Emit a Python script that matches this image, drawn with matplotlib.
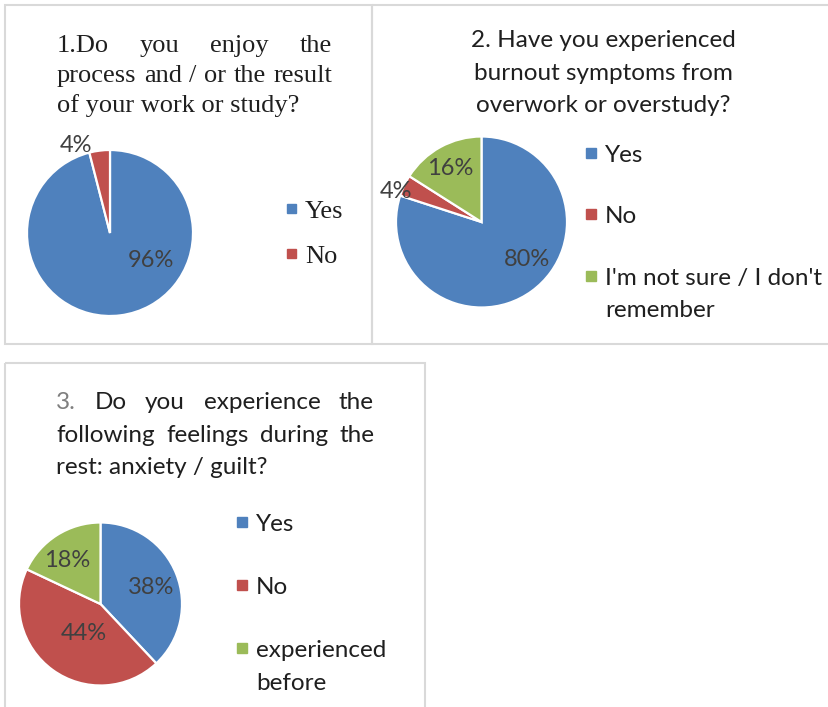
import matplotlib
matplotlib.use("Agg")
import matplotlib.pyplot as plt
from matplotlib.patches import Rectangle

W, H = 829, 707

# chart data
q1_title = ["1.Do you enjoy the", "process and / or the result", "of your work or study?"]
q1_labels = ["Yes", "No"]
q1_values = [96, 4]

q2_title = ["2. Have you experienced", "burnout symptoms from", "overwork or overstudy?"]
q2_labels = ["Yes", "No", "I'm not sure / I don't\nremember"]
q2_values = [80, 4, 16]

q3_title = ["3. Do you experience the", "following feelings during the", "rest: anxiety / guilt?"]
q3_labels = ["Yes", "No", "experienced\nbefore"]
q3_values = [38, 44, 18]

colors = ["#4F81BD", "#C0504D", "#9BBB59"]
SANS = ["Lato", "DejaVu Sans"]
SERIF = ["Liberation Serif", "DejaVu Serif"]
TXT = "#1f1f1f"
FS_SERIF = 19
FS_SANS = 17.5

fig = plt.figure(figsize=(W / 100, H / 100), dpi=100)
fig.patch.set_facecolor("white")

over = fig.add_axes([0, 0, 1, 1])
over.set_xlim(0, W)
over.set_ylim(H, 0)
over.axis("off")
over.patch.set_visible(False)
over.set_zorder(5)

# panel frames
for x0, y0, x1, y1 in [(5, 5, 372, 344), (372, 5, 835, 344), (5, 363, 425, 715)]:
    over.add_patch(Rectangle((x0, y0), x1 - x0, y1 - y0, fill=False,
                             ec="#D9D9D9", lw=1.5, clip_on=False))


def pie_axes(cx, cy, r, pad=1.4):
    ax = fig.add_axes([(cx - pad * r) / W, 1 - (cy + pad * r) / H,
                       2 * pad * r / W, 2 * pad * r / H])
    return ax


def draw_pie(ax, values, label_pos):
    _, _, autotexts = ax.pie(values, colors=colors, startangle=90, counterclock=False,
                             autopct="%1.0f%%", radius=1, frame=True,
                             wedgeprops=dict(edgecolor="white", linewidth=1.6),
                             textprops=dict(color="#404040", fontsize=17, family=SANS))
    ax.set_xlim(-1.4, 1.4)
    ax.set_ylim(-1.4, 1.4)
    ax.axis("off")
    for t, p in zip(autotexts, label_pos):
        t.set_position(p)
        t.set_ha("center")
        t.set_va("center")


def justify(words, x0, x1, y, **kw):
    texts = [over.text(0, y, w, ha="left", va="baseline", **kw) for w in words]
    rend = fig.canvas.get_renderer()
    widths = [t.get_window_extent(rend).width for t in texts]
    gap = (x1 - x0 - sum(widths)) / (len(words) - 1)
    x = x0
    for t, w in zip(texts, widths):
        t.set_x(x)
        x += w + gap
    return texts


def legend(x, ys, labels, fs, family, sq=10, lead=32):
    for y, lab, c in zip(ys, labels, colors):
        over.add_patch(Rectangle((x, y - 0.36 * fs * 1.39 - sq / 2), sq, sq, color=c))
        for i, line in enumerate(lab.split("\n")):
            over.text(x + sq + 9, y + i * lead, line, ha="left", va="baseline",
                      fontsize=fs, family=family, color=TXT)


# panel 1
ax1 = pie_axes(110, 233, 83)
draw_pie(ax1, q1_values, [(0.49, -0.33), (-0.41, 1.05)])
justify(q1_title[0].split(), 57, 332, 52, fontsize=FS_SERIF, family=SERIF, color=TXT)
justify(q1_title[1].split(), 57, 332, 82, fontsize=FS_SERIF, family=SERIF, color=TXT)
over.text(57, 112, q1_title[2], ha="left", va="baseline", fontsize=FS_SERIF, family=SERIF, color=TXT)
legend(287, [218, 263], q1_labels, FS_SERIF, SERIF, sq=9)

# panel 2
ax2 = pie_axes(481.5, 222, 85.5)
draw_pie(ax2, q2_values, [(0.53, -0.44), (-1.0, 0.36), (-0.37, 0.63)])
for y, line in zip([47, 80, 112], q2_title):
    over.text(603, y, line, ha="center", va="baseline", fontsize=FS_SANS, family=SANS, color=TXT)
legend(586, [162, 223, 285], q2_labels, FS_SANS, SANS, lead=32)

# panel 3
ax3 = pie_axes(100.5, 604, 81.5)
draw_pie(ax3, q3_values, [(0.62, 0.20), (-0.21, -0.36), (-0.41, 0.53)])
t3 = justify(q3_title[0].split(), 56, 374, 409, fontsize=FS_SANS, family=SANS, color=TXT)
t3[0].set_color("#7F7F7F")
justify(q3_title[1].split(), 56, 374, 442, fontsize=FS_SANS, family=SANS, color=TXT)
over.text(56, 474, q3_title[2], ha="left", va="baseline", fontsize=FS_SANS, family=SANS, color=TXT)
legend(237, [531, 594, 657], q3_labels, FS_SANS, SANS, lead=33)

fig.savefig("out.png", dpi=100)
